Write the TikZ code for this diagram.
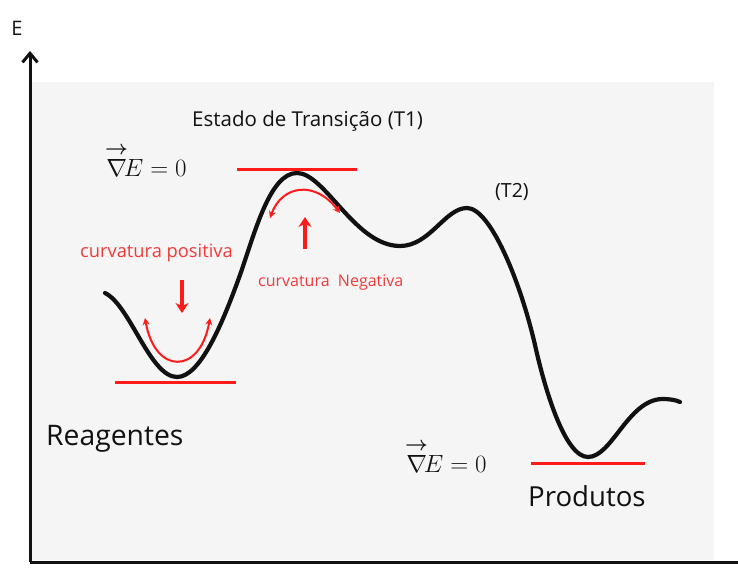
\documentclass[tikz,border=0pt]{standalone}
\usepackage[no-math]{fontspec}
\setmainfont{Open Sans}
\usepackage{amsmath}
\usetikzlibrary{arrows.meta}
\definecolor{bg}{HTML}{F5F5F5}
\definecolor{ink}{HTML}{111111}
\definecolor{redline}{HTML}{FF1A1A}
\definecolor{curv}{HTML}{F03A3A}
\newcommand{\gradzero}{${\overset{\scalebox{1.15}{$\scriptstyle\boldsymbol{\rightarrow}$}}{\nabla}}\mkern-3mu E = 0$}

\begin{document}
\begin{tikzpicture}[x=1pt,y=-1pt,
  curve/.style={line width=4.2pt,ink,line cap=round,line join=round},
  level/.style={line width=3pt,redline},
  arcarrow/.style={{Stealth[length=7pt,width=7pt]}-{Stealth[length=7pt,width=7pt]},line width=2pt,redline},
  hint/.style={-{Stealth[length=10pt,width=13pt]},line width=3.5pt,redline},
  axis/.style={line width=3pt,ink},
  lbl/.style={inner sep=0pt,text=ink,anchor=base west},
  note/.style={inner sep=0pt,text=curv,anchor=base west}]
  \useasboundingbox (0,0) rectangle (738,567);
  \fill[bg] (30,82) rectangle (714,560);

  % ===== axes =====
  \coordinate (origin) at (30,562);
  \coordinate (xend) at (738,562);
  \coordinate (ytip) at (30,51);
  \draw[axis] (origin) -- (xend);
  \draw[axis,-{Straight Barb[length=9pt,width=15pt]}] (origin) -- (ytip);
  \node[lbl,anchor=center,font=\fontsize{20}{24}\selectfont] (lblE) at (17,28) {E};

  % ===== energy profile =====
  \coordinate (start) at (105,293);
  \coordinate (reac) at (177,377);
  \coordinate (ts1) at (297,173);
  \coordinate (inter) at (400,246);
  \coordinate (ts2) at (467,208);
  \coordinate (prodmin) at (588,457);
  \coordinate (finish) at (680,402);
  \draw[curve] (start) .. controls (130,305) and (150,377) .. (reac)
    .. controls (200,377) and (222,325) .. (240,275)
    .. controls (255,232) and (270,173) .. (ts1)
    .. controls (325,173) and (355,246) .. (inter)
    .. controls (430,246) and (445,208) .. (ts2)
    .. controls (490,208) and (520,280) .. (535,345)
    .. controls (545,390) and (565,457) .. (prodmin)
    .. controls (612,457) and (628,400) .. (662,399)
    .. controls (670,399) and (676,400) .. (finish);

  % ===== stationary levels =====
  \draw[level] (237,169) -- (357,169);
  \draw[level] (115,382) -- (236,382);
  \draw[level] (531,463) -- (645,463);

  % ===== curvature arrows =====
  \draw[arcarrow] (270,218) .. controls (282,185) and (315,180) .. (340,213);
  \draw[arcarrow] (145,318) .. controls (155,375) and (200,375) .. (210,318);
  \coordinate (posFrom) at (182,280);
  \coordinate (posTo) at (182,313);
  \coordinate (negFrom) at (305,249);
  \coordinate (negTo) at (305,217);
  \draw[hint] (posFrom) -- (posTo);
  \draw[hint] (negFrom) -- (negTo);

  % ===== labels =====
  \node[lbl,font=\fontsize{20.5}{24}\selectfont] (ts) at (192,127) {Estado de Transição (T1)};
  \node[lbl,font=\fontsize{19.5}{23}\selectfont] (t2) at (495,197) {(T2)};
  \node[note,font=\fontsize{18.3}{22}\selectfont] (pos) at (80,257) {curvatura positiva};
  \node[note,font=\fontsize{16}{19}\selectfont] (neg) at (258,286) {curvatura\ \ Negativa};
  \node[lbl,font=\fontsize{28.3}{32}\selectfont] (reag) at (46,445) {Reagentes};
  \node[lbl,font=\fontsize{27.6}{32}\selectfont] (prod) at (528,506) {Produtos};
  \node[lbl,font=\fontsize{27}{30}\selectfont] (gradTop) at (105,176) {\gradzero};
  \node[lbl,font=\fontsize{27}{30}\selectfont] (gradBot) at (405,472) {\gradzero};
\end{tikzpicture}
\end{document}
